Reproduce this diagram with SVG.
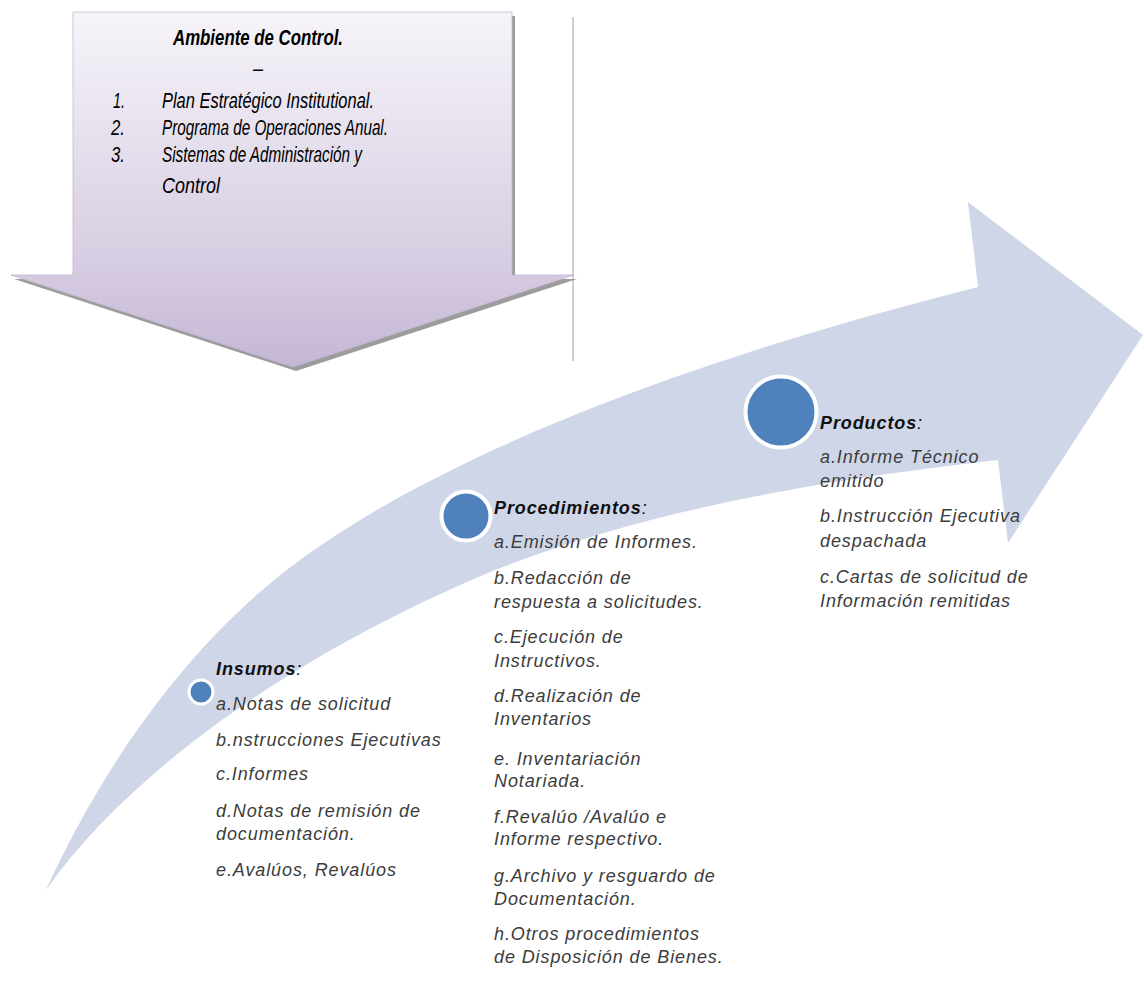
<svg xmlns="http://www.w3.org/2000/svg" width="1144" height="983" viewBox="0 0 1144 983">
<defs>
<linearGradient id="boxGrad" x1="0" y1="12" x2="0" y2="367" gradientUnits="userSpaceOnUse">
<stop offset="0" stop-color="#f6f4f9"/>
<stop offset="0.7" stop-color="#d7cde2"/>
<stop offset="1" stop-color="#c5b7d4"/>
</linearGradient>
<style>
.lbl{font-family:"Liberation Sans",Arial,sans-serif;font-style:italic;font-size:18px;letter-spacing:0.9px;fill:#3c3c3c;}
.hdr{font-family:"Liberation Sans",Arial,sans-serif;font-style:italic;font-size:18px;letter-spacing:0.9px;fill:#111;}
.hdr .b{font-weight:bold;}
.box{font-family:"Liberation Sans",Arial,sans-serif;font-style:italic;font-size:22px;fill:#000;}
.dot{fill:#4f81bd;stroke:#ffffff;}
</style>
</defs>
<rect width="1144" height="983" fill="#ffffff"/>

<g id="flow-arrow">
<path d="M46,890 C110,750 200,633 300,560 C430,465 650,370 978,287 L968,202 L1143,335 L1008,543 L998,460 C820,480 650,510 500,568 C300,650 130,770 46,890 Z" fill="#ced6e7"/>
</g>

<g id="control-box">
<path d="M76,16 H515 V279 H577 L296,371 L14,279 H76 Z" fill="#9c9c9c"/>
<path d="M73,12 H512 V275 H574 L293,367 L11,275 H73 Z" fill="url(#boxGrad)" stroke="#c3b6d2" stroke-width="0.8"/>
<line x1="573" y1="17" x2="573" y2="361" stroke="#a0a0a0" stroke-width="1"/>
<text class="box" x="258" y="45" text-anchor="middle" font-weight="bold" textLength="170" lengthAdjust="spacingAndGlyphs">Ambiente de Control.</text>
<text class="box" x="258" y="76" text-anchor="middle" textLength="10" lengthAdjust="spacingAndGlyphs">–</text>
<text class="box" x="113" y="108" textLength="12" lengthAdjust="spacingAndGlyphs">1.</text>
<text class="box" x="162" y="108" textLength="212" lengthAdjust="spacingAndGlyphs">Plan Estratégico Institutional.</text>
<text class="box" x="111" y="135" textLength="14" lengthAdjust="spacingAndGlyphs">2.</text>
<text class="box" x="162" y="135" textLength="226" lengthAdjust="spacingAndGlyphs">Programa de Operaciones Anual.</text>
<text class="box" x="111" y="162" textLength="14" lengthAdjust="spacingAndGlyphs">3.</text>
<text class="box" x="162" y="162" textLength="200" lengthAdjust="spacingAndGlyphs">Sistemas de Administración y</text>
<text class="box" x="162" y="193" textLength="58" lengthAdjust="spacingAndGlyphs">Control</text>
</g>

<g id="insumos">
<circle class="dot" cx="201" cy="692" r="12" stroke-width="3"/>
<text class="hdr" x="216" y="675"><tspan class="b">Insumos</tspan>:</text>
<text class="lbl" x="216" y="710">a.Notas de solicitud</text>
<text class="lbl" x="216" y="746">b.nstrucciones Ejecutivas</text>
<text class="lbl" x="216" y="780">c.Informes</text>
<text class="lbl" x="216" y="817">d.Notas de remisión de</text>
<text class="lbl" x="216" y="840">documentación.</text>
<text class="lbl" x="216" y="876">e.Avalúos, Revalúos</text>
</g>

<g id="procedimientos">
<circle class="dot" cx="466" cy="516" r="24.5" stroke-width="4"/>
<text class="hdr" x="494" y="514"><tspan class="b">Procedimientos</tspan>:</text>
<text class="lbl" x="494" y="548">a.Emisión de Informes.</text>
<text class="lbl" x="494" y="584">b.Redacción de</text>
<text class="lbl" x="494" y="608">respuesta a solicitudes.</text>
<text class="lbl" x="494" y="643">c.Ejecución de</text>
<text class="lbl" x="494" y="667">Instructivos.</text>
<text class="lbl" x="494" y="702">d.Realización de</text>
<text class="lbl" x="494" y="725">Inventarios</text>
<text class="lbl" x="494" y="765">e. Inventariación</text>
<text class="lbl" x="494" y="787">Notariada.</text>
<text class="lbl" x="494" y="823">f.Revalúo /Avalúo e</text>
<text class="lbl" x="494" y="845">Informe respectivo.</text>
<text class="lbl" x="494" y="882">g.Archivo y resguardo de</text>
<text class="lbl" x="494" y="905">Documentación.</text>
<text class="lbl" x="494" y="940">h.Otros procedimientos</text>
<text class="lbl" x="494" y="963">de Disposición de Bienes.</text>
</g>

<g id="productos">
<circle class="dot" cx="781" cy="412" r="35.5" stroke-width="4"/>
<text class="hdr" x="820" y="429"><tspan class="b">Productos</tspan>:</text>
<text class="lbl" x="820" y="463">a.Informe Técnico</text>
<text class="lbl" x="820" y="487">emitido</text>
<text class="lbl" x="820" y="522">b.Instrucción Ejecutiva</text>
<text class="lbl" x="820" y="547">despachada</text>
<text class="lbl" x="820" y="583">c.Cartas de solicitud de</text>
<text class="lbl" x="820" y="607">Información remitidas</text>
</g>
</svg>
